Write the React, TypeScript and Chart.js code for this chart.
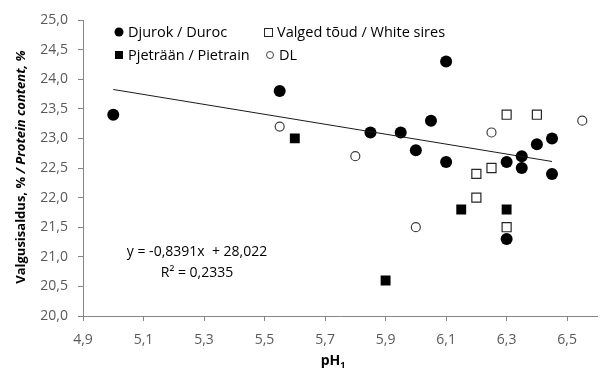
import React, { useEffect, useRef } from "react";
import { Chart, registerables } from "chart.js";

Chart.register(...registerables);

const djurokX = [5.0, 5.55, 5.85, 5.95, 6.0, 6.05, 6.1, 6.1, 6.3, 6.3, 6.35, 6.35, 6.4, 6.45, 6.45];
const djurokY = [23.4, 23.8, 23.1, 23.1, 22.8, 23.3, 24.3, 22.6, 22.6, 21.3, 22.7, 22.5, 22.9, 23.0, 22.4];
const pietrainX = [5.6, 5.9, 6.15, 6.3];
const pietrainY = [23.0, 20.6, 21.8, 21.8];
const whiteX = [6.2, 6.2, 6.25, 6.3, 6.4, 6.3];
const whiteY = [22.0, 22.4, 22.5, 23.4, 23.4, 21.5];
const dlX = [5.55, 5.8, 6.0, 6.25, 6.55];
const dlY = [23.2, 22.7, 21.5, 23.1, 23.3];

const trendSlope = -0.8391;
const trendIntercept = 28.022;
const trendRange = [5.0, 6.45];

const seriesNames = ["Djurok / Duroc", "Valged tõud / White sires", "Pjeträän / Pietrain", "DL"];
const xTicks = [4.9, 5.1, 5.3, 5.5, 5.7, 5.9, 6.1, 6.3, 6.5];
const equationText = "y = -0,8391x  + 28,022";
const r2Text = "R² = 0,2335";

const FONT = "'Open Sans', sans-serif";
const pts = (xs: number[], ys: number[]) => xs.map((x, i) => ({ x, y: ys[i] }));
const comma = (v: number) => v.toFixed(1).replace(".", ",");

function drawMarker(ctx: CanvasRenderingContext2D, kind: string, x: number, y: number) {
  ctx.save();
  if (kind === "fc") {
    ctx.fillStyle = "#000";
    ctx.beginPath();
    ctx.arc(x, y, 4.5, 0, Math.PI * 2);
    ctx.fill();
  } else if (kind === "fs") {
    ctx.fillStyle = "#000";
    ctx.fillRect(x - 4, y - 4, 8, 8);
  } else if (kind === "os") {
    ctx.strokeStyle = "#262626";
    ctx.lineWidth = 1;
    ctx.strokeRect(x - 3.5, y - 3.5, 8, 8);
  } else {
    ctx.strokeStyle = "#404040";
    ctx.lineWidth = 1;
    ctx.beginPath();
    ctx.arc(x, y, 3.5, 0, Math.PI * 2);
    ctx.stroke();
  }
  ctx.restore();
}

const overlayPlugin = {
  id: "overlay",
  afterDraw(chart: any) {
    const ctx: CanvasRenderingContext2D = chart.ctx;
    ctx.save();
    // legend
    ctx.font = `14.5px ${FONT}`;
    ctx.textBaseline = "middle";
    ctx.textAlign = "left";
    const legend = [
      { kind: "fc", name: seriesNames[0], x: 119, y: 32 },
      { kind: "os", name: seriesNames[1], x: 268, y: 32 },
      { kind: "fs", name: seriesNames[2], x: 119, y: 55 },
      { kind: "oc", name: seriesNames[3], x: 270, y: 55 },
    ];
    legend.forEach((l) => {
      drawMarker(ctx, l.kind, l.x, l.y);
      ctx.fillStyle = "#000";
      ctx.fillText(l.name, l.x + 9, l.y + 1);
    });
    // equation
    ctx.font = `14px ${FONT}`;
    ctx.fillStyle = "#000";
    ctx.textAlign = "center";
    ctx.fillText(equationText, 197, 252);
    ctx.fillText(r2Text, 197, 273);
    // y title
    ctx.save();
    ctx.translate(21, 167);
    ctx.rotate(-Math.PI / 2);
    const p1 = "Valgusisaldus, % ";
    const p2 = "/ Protein content, %";
    ctx.font = `bold 13px ${FONT}`;
    const w1 = ctx.measureText(p1).width;
    ctx.font = `italic bold 13px ${FONT}`;
    const w2 = ctx.measureText(p2).width;
    const start = -(w1 + w2) / 2;
    ctx.textAlign = "left";
    ctx.fillStyle = "#000";
    ctx.font = `bold 13px ${FONT}`;
    ctx.fillText(p1, start, 0);
    ctx.font = `italic bold 13px ${FONT}`;
    ctx.fillText(p2, start + w1, 0);
    ctx.restore();
    // x title
    ctx.font = `bold 14px ${FONT}`;
    const wp = ctx.measureText("pH").width;
    ctx.font = `bold 9px ${FONT}`;
    const ws = ctx.measureText("1").width;
    const sx = 333 - (wp + ws) / 2;
    ctx.textAlign = "left";
    ctx.font = `bold 14px ${FONT}`;
    ctx.fillText("pH", sx, 361);
    ctx.font = `bold 9px ${FONT}`;
    ctx.fillText("1", sx + wp, 365);
    ctx.restore();
  },
};

export default function App() {
  const ref = useRef<HTMLCanvasElement>(null);
  useEffect(() => {
    document.body.style.margin = "0";
    const trend = trendRange.map((x) => ({ x, y: trendSlope * x + trendIntercept }));
    const chart = new Chart(ref.current!, {
      type: "scatter",
      data: {
        datasets: [
          {
            label: "trend",
            data: trend,
            showLine: true,
            borderColor: "#1a1a1a",
            borderWidth: 1,
            pointRadius: 0,
            type: "line",
          } as any,
          {
            label: seriesNames[0],
            data: pts(djurokX, djurokY),
            pointStyle: "circle",
            pointRadius: 6,
            backgroundColor: "#000",
            borderColor: "#000",
            borderWidth: 0,
          },
          {
            label: seriesNames[1],
            data: pts(whiteX, whiteY),
            pointStyle: "rect",
            pointRadius: 6.4,
            backgroundColor: "#fff",
            borderColor: "#262626",
            borderWidth: 1.2,
          },
          {
            label: seriesNames[2],
            data: pts(pietrainX, pietrainY),
            pointStyle: "rect",
            pointRadius: 7,
            backgroundColor: "#000",
            borderColor: "#000",
            borderWidth: 0,
          },
          {
            label: seriesNames[3],
            data: pts(dlX, dlY),
            pointStyle: "circle",
            pointRadius: 4.5,
            backgroundColor: "#fff",
            borderColor: "#404040",
            borderWidth: 1.2,
          },
        ],
      },
      options: {
        animation: false,
        responsive: false,
        layout: { padding: { top: 20, right: 2, left: 0, bottom: 0 } },
        plugins: { legend: { display: false }, tooltip: { enabled: false } },
        scales: {
          x: {
            type: "linear",
            min: 4.9,
            max: 6.6,
            afterBuildTicks: (s: any) => {
              s.ticks = xTicks.map((v) => ({ value: v }));
            },
            afterFit: (s: any) => {
              s.height = 56;
            },
            grid: { drawOnChartArea: false, color: "#868686", tickLength: 5 },
            border: { color: "#868686" },
            ticks: {
              padding: 11,
              color: "#595959",
              font: { family: FONT, size: 14 },
              callback: (v: any) => comma(Number(v)),
            },
          },
          y: {
            type: "linear",
            min: 20,
            max: 25,
            afterFit: (s: any) => {
              s.width = 83;
            },
            grid: { drawOnChartArea: false, color: "#868686", tickLength: 5 },
            border: { color: "#868686" },
            ticks: {
              stepSize: 0.5,
              padding: 10,
              color: "#595959",
              font: { family: FONT, size: 14 },
              callback: (v: any) => comma(Number(v)),
            },
          },
        },
      },
      plugins: [overlayPlugin],
    });
    return () => chart.destroy();
  }, []);
  return <canvas ref={ref} width={605} height={372} style={{ display: "block" }} />;
}
